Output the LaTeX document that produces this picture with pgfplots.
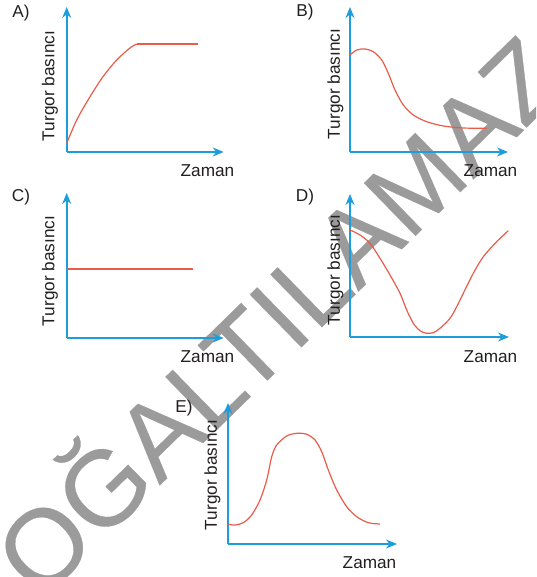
\documentclass[border=0pt]{standalone}
\usepackage{pgfplots}
\pgfplotsset{compat=1.18}
\usetikzlibrary{arrows.meta}
\usepackage{fontspec}
\setmainfont{Liberation Sans}
\newfontfamily\wmfont[FakeBold=0.3]{Liberation Sans}
\definecolor{axblue}{RGB}{28,158,220}
\definecolor{curvered}{RGB}{232,92,72}
\definecolor{txt}{RGB}{35,31,32}
\definecolor{wm}{RGB}{155,155,155}
\pgfplotsset{
  turgor/.style={
    scale only axis, anchor=south west,
    axis lines=left, xtick=\empty, ytick=\empty,
    xmin=0, ymin=0, enlargelimits=false, clip=false,
    axis line style={draw=axblue, line width=0.8pt, -{Stealth[length=5.5pt, width=4.5pt]}},
  },
  crv/.style={curvered, line width=0.6pt, no markers},
}
\begin{document}
\begin{tikzpicture}
\begin{scope}[x=0.5pt, y=0.5pt]
\clip (0,0) rectangle (536,577);
% watermark
\node[rotate=44.3, anchor=base, inner sep=0, text=wm, font=\wmfont\fontsize{53.5pt}{60pt}\selectfont] at (278,207) {ÇOĞALTILAMAZ};
\end{scope}

\tikzset{lab/.style={inner sep=0, text=txt, font=\fontsize{8.6pt}{10pt}\selectfont}}

% A
\begin{axis}[turgor, at={(33.35pt,212.5pt)}, xmax=157, ymax=145, width=78.5pt, height=72.5pt]
\addplot[crv, smooth] coordinates {(0,8.7) (10,32) (23.3,55.3) (36.3,75.3) (50,92) (63.3,104) (70,108)};
\addplot[crv] coordinates {(70,108) (131.6,108)};
\end{axis}

% B
\begin{axis}[turgor, at={(175pt,212.5pt)}, xmax=158, ymax=145, width=79pt, height=72.5pt]
\addplot[crv, smooth] coordinates {(0,97) (6.7,102) (15,103) (23.3,100.3) (31.7,92) (38.3,78.7) (45,62) (53.3,47) (63.3,37) (76.7,30.3) (93.3,26) (113.3,24) (136.7,23.7)};
\end{axis}

% C
\begin{axis}[turgor, at={(33.35pt,119.5pt)}, xmax=157, ymax=145, width=78.5pt, height=72.5pt]
\addplot[crv] coordinates {(0,69) (126.7,69)};
\end{axis}

% D
\begin{axis}[turgor, at={(175pt,120pt)}, xmax=159, ymax=143, width=79.5pt, height=71.5pt]
\addplot[crv, smooth] coordinates {(0,107) (10,102) (20,93.7) (30,78.7) (40,62) (50,43.7) (56.7,27) (63.3,13.7) (70,6.3) (76.7,3.7) (83.3,4.3) (90,8.7) (100,18.7) (106.7,30.3) (113.3,43.7) (123.3,63.7) (133.3,80.3) (146.7,95.3) (158.3,106.3)};
\end{axis}

% E
\begin{axis}[turgor, at={(114pt,16.5pt)}, xmax=169, ymax=141, width=84.5pt, height=70.5pt]
\addplot[crv, smooth] coordinates {(0.3,19.7) (7,19) (15.3,21.3) (23.7,29) (32,44) (38.7,64) (43.7,87.3) (48.7,99) (58.7,108) (68.7,110.7) (78.7,109.7) (87,104) (93.7,92.3) (100.3,74) (108.7,54) (118.7,37.3) (128.7,27.3) (140.3,21.3) (152,20)};
\end{axis}

\begin{scope}[x=0.5pt, y=0.5pt]
\node[lab] at (21,563.5) {A)};
\node[lab, rotate=90] at (50,491) {Turgor basıncı};
\node[lab] at (207.5,406) {Zaman};
\node[lab] at (305,565) {B)};
\node[lab, rotate=90] at (335.5,493) {Turgor basıncı};
\node[lab] at (490.5,406) {Zaman};
\node[lab] at (21,380) {C)};
\node[lab, rotate=90] at (50,306) {Turgor basıncı};
\node[lab] at (207.5,220) {Zaman};
\node[lab] at (305,380) {D)};
\node[lab, rotate=90] at (335.5,307) {Turgor basıncı};
\node[lab] at (490.5,220) {Zaman};
\node[lab] at (184,169) {E)};
\node[lab, rotate=90] at (212.5,102) {Turgor basıncı};
\node[lab] at (369.5,14) {Zaman};
\end{scope}
\end{tikzpicture}
\end{document}
